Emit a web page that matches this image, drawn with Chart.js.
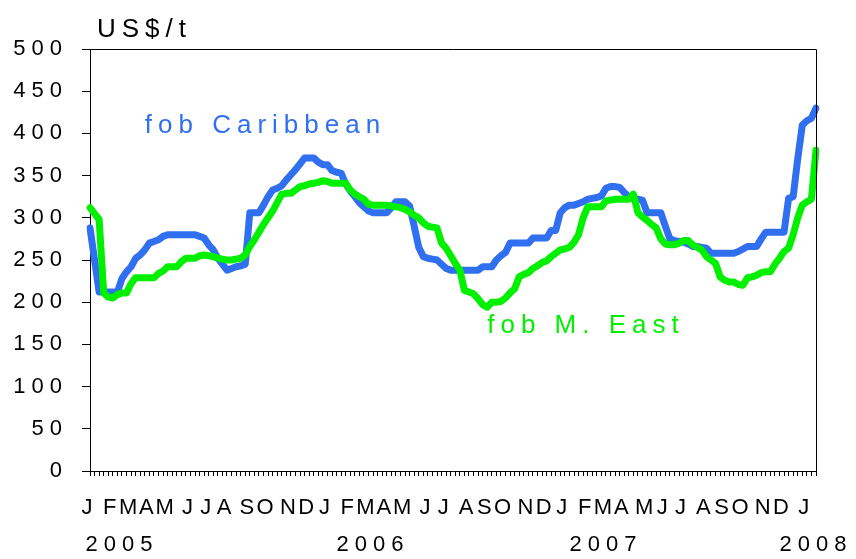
<!DOCTYPE html>
<html><head><meta charset="utf-8">
<script src="https://cdn.jsdelivr.net/npm/chart.js@4.4.1/dist/chart.umd.min.js"></script>
<style>html,body{margin:0;padding:0;background:#fff;}</style>
</head><body>
<canvas id="c" width="856" height="559"></canvas>
<script>
// ---- data ----
const weekCount = 160;                 // weekly observations from the first week of Jan 2005
const monthLetters = ['J','F','M','A','M','J','J','A','S','O','N','D'];
const yearLabels = ['2005','2006','2007','2008'];
const yearLabelWeeks = [7, 62, 113, 159];
const yMin = 0, yMax = 500, yStep = 50;
const seriesNames = ['fob Caribbean', 'fob M. East'];
const caribbean = [
 288,250,212,212,212,212,212,228,236,242, 252,256,262,270,272,274,278,280,280,280,
 280,280,280,280,278,276,268,262,252,245, 238,240,242,243,245,306,306,306,315,325,
 333,335,338,345,351,357,364,371,371,371, 366,363,363,356,354,353,340,332,325,318,
 313,308,306,306,306,306,312,319,319,319, 314,290,265,254,252,251,250,245,240,238,
 238,238,238,238,238,238,242,242,242,250, 255,259,270,270,270,270,270,276,276,276,
 276,285,285,306,312,315,315,317,319,322, 323,324,326,335,337,337,336,330,325,323,
 322,321,306,306,306,306,290,275,273,272, 271,269,266,266,265,264,258,258,258,258,
 258,258,260,263,266,266,266,275,283,283, 283,283,283,323,325,370,410,415,418,430
];
const middleEast = [
 312,305,298,211,206,205,209,211,211,222, 229,229,229,229,229,234,237,242,242,242,
 248,252,252,252,255,256,255,254,252,251, 250,250,251,252,256,266,274,283,292,300,
 308,318,328,329,329,333,337,338,340,341, 342,344,343,341,341,341,341,333,328,325,
 322,316,315,315,315,315,314,313,312,310, 307,303,300,294,290,289,288,270,264,255,
 246,238,214,212,210,204,197,194,200,200, 201,205,211,216,230,233,235,240,243,247,
 249,254,258,262,263,265,271,280,300,313, 313,313,313,320,321,322,322,322,322,328,
 306,301,297,292,288,275,269,268,268,270, 273,273,268,265,262,254,250,246,230,226,
 224,224,221,220,229,230,232,235,236,236, 245,252,260,264,280,300,315,319,322,380
];
// annotation anchors (week index, value)
const caribbeanLabelAt = [12, 400];
const eastLabelAt = [87, 164];
const unitLabel = 'US$/t';

// ---- categories ----
const weeks = [], tickLabels = [];
const d0 = Date.UTC(2005, 0, 3);
for (let i = 0; i < weekCount; i++) {
  const d = new Date(d0 + i * 7 * 864e5);
  weeks.push(d.toISOString().slice(0, 10));
  const m = d.getUTCDate() <= 7 ? monthLetters[d.getUTCMonth()] : '';
  const yi = yearLabelWeeks.indexOf(i);
  tickLabels.push(yi >= 0 ? [m, yearLabels[yi]] : m);
}

const BLUE = '#2F6FF0', GREEN = '#00F000';
const FONT = "'Liberation Sans', Arial, sans-serif";

const spacing = {
  id: 'spacing',
  beforeUpdate(c) { c.ctx.letterSpacing = '6px'; },
  beforeLayout(c) { c.ctx.letterSpacing = '6px'; },
  beforeDraw(c) { c.ctx.letterSpacing = '6px'; }
};
const frame = {
  id: 'frame',
  afterDraw(c) {
    const {ctx, chartArea: a} = c;
    ctx.save();
    ctx.strokeStyle = '#000'; ctx.lineWidth = 1;
    ctx.beginPath();
    ctx.moveTo(Math.round(a.left) + 0.5, Math.round(a.top) + 0.5);
    ctx.lineTo(Math.round(a.right) + 0.5, Math.round(a.top) + 0.5);
    ctx.lineTo(Math.round(a.right) + 0.5, Math.round(a.bottom) + 0.5);
    ctx.stroke();
    ctx.restore();
  }
};
const texts = {
  id: 'texts',
  afterDatasetsDraw(c) {
    const {ctx, chartArea: a} = c;
    const xs = c.scales.x, ys = c.scales.y;
    ctx.save();
    ctx.letterSpacing = '6px';
    ctx.font = '26px ' + FONT;
    ctx.textAlign = 'left'; ctx.textBaseline = 'alphabetic';
    ctx.fillStyle = BLUE;
    ctx.fillText(seriesNames[0], xs.getPixelForValue(caribbeanLabelAt[0]), ys.getPixelForValue(caribbeanLabelAt[1]));
    ctx.fillStyle = GREEN;
    ctx.fillText(seriesNames[1], xs.getPixelForValue(eastLabelAt[0]), ys.getPixelForValue(eastLabelAt[1]));
    ctx.fillStyle = '#000';
    ctx.fillText(unitLabel, a.left + 7, a.top - 12);
    ctx.restore();
  }
};

new Chart(document.getElementById('c'), {
  type: 'line',
  data: {
    labels: weeks,
    datasets: [
      { label: seriesNames[1], data: middleEast, borderColor: GREEN, borderWidth: 7,
        pointRadius: 0, tension: 0, borderJoinStyle: 'round', borderCapStyle: 'round', order: 0 },
      { label: seriesNames[0], data: caribbean, borderColor: BLUE, borderWidth: 7,
        pointRadius: 0, tension: 0, borderJoinStyle: 'round', borderCapStyle: 'round', order: 1 }
    ]
  },
  options: {
    responsive: false,
    animation: false,
    devicePixelRatio: 1,
    layout: { padding: { top: 49, right: 40, left: 0, bottom: 0 } },
    plugins: { legend: { display: false }, tooltip: { enabled: false } },
    scales: {
      x: {
        type: 'category',
        afterFit(s) { s.height = 88; s.paddingRight = 0; s.paddingLeft = 0; },
        grid: { drawOnChartArea: false, drawTicks: true, tickLength: 5, color: '#000', lineWidth: 1 },
        border: { display: true, color: '#000', width: 1 },
        ticks: {
          autoSkip: false, maxRotation: 0, minRotation: 0, padding: 13,
          color: '#000', font: { family: FONT, size: 22, lineHeight: 1.7 },
          callback: (v, i) => tickLabels[i]
        }
      },
      y: {
        min: yMin, max: yMax,
        afterFit(s) { s.width = 90; s.paddingTop = 0; s.paddingBottom = 0; },
        grid: { drawOnChartArea: false, drawTicks: true, tickLength: 8, color: '#000', lineWidth: 1 },
        border: { display: true, color: '#000', width: 1 },
        ticks: { stepSize: yStep, padding: 14, color: '#000', font: { family: FONT, size: 22 } }
      }
    }
  },
  plugins: [spacing, frame, texts]
});
</script>
</body></html>
